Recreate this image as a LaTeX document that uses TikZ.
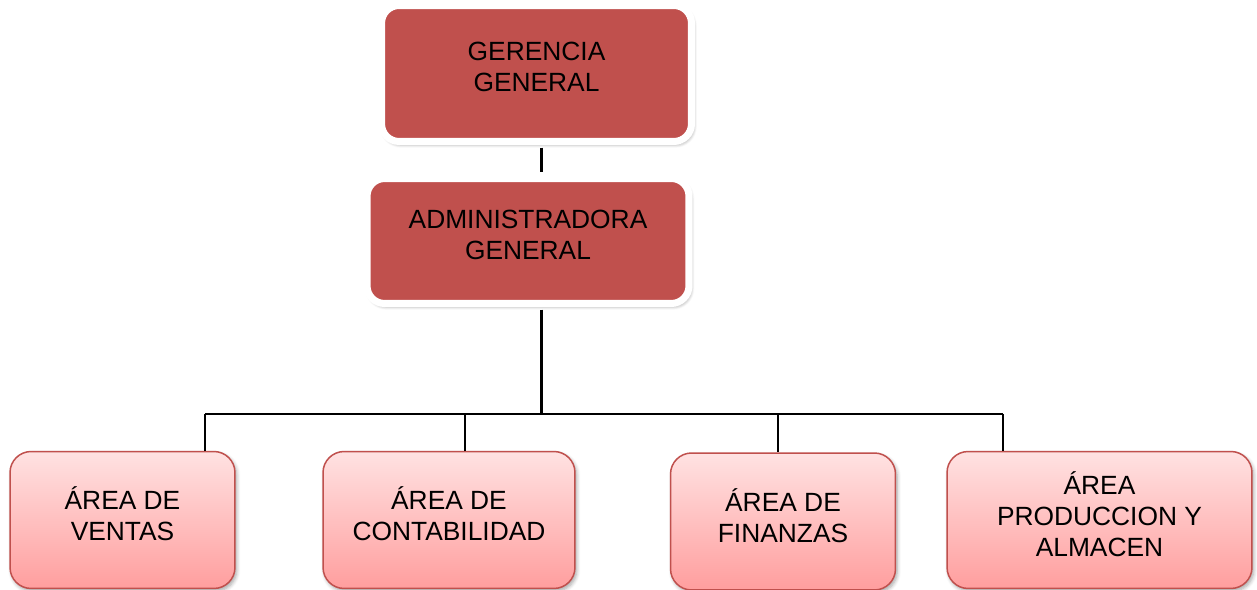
\documentclass[tikz,border=0pt]{standalone}
\usepackage{fontspec}
\setmainfont{Liberation Sans}
\usetikzlibrary{shapes, positioning, shadows, shadows.blur, calc}

\definecolor{jefeRed}{RGB}{192,80,77}
\definecolor{areaTop}{RGB}{255,226,226}
\definecolor{areaBottom}{RGB}{255,158,158}
\newcommand{\boxfont}{\fontsize{15pt}{17.6pt}\selectfont}

\begin{document}
\begin{tikzpicture}[
            x=0.02cm, y=-0.02cm,
            jefe/.style={
				rectangle,
				rounded corners=10pt,
				align=center,
				draw=white,
				line width=4pt,
				fill=jefeRed,
				font=\boxfont,
				text depth=0.25cm,
				blur shadow={shadow xshift=1pt, shadow yshift=-1.5pt, shadow blur steps=6, shadow opacity=45}
			},
            area/.style={
				rectangle,
				rounded corners=12pt,
				align=center,
				draw=jefeRed,
				line width=0.85pt,
				top color=areaTop,
				bottom color=areaBottom,
				font=\boxfont,
				text depth=0.25cm,
				minimum height=2.74cm,
				blur shadow={shadow xshift=1pt, shadow yshift=-1.5pt, shadow blur steps=5, shadow opacity=35}
			},
            conn/.style={
				line width=1.3pt,
				black
			}
        ]

        \useasboundingbox (0,0) rectangle (1257,590);

        \node (gerencia) [jefe, minimum width=6.2cm, minimum height=2.72cm] at (536.5,73.5) {GERENCIA\\GENERAL};
        \node (admin) [jefe, minimum width=6.44cm, minimum height=2.5cm] at (528,241) {ADMINISTRADORA\\GENERAL};

        \node (ventas) [area, minimum width=4.5cm] at (122.5,520) {ÁREA DE\\VENTAS};
        \node (conta) [area, minimum width=5.04cm] at (449,520) {ÁREA DE\\CONTABILIDAD};
        \node (finanzas) [area, minimum width=4.5cm] at (783,521.5) {ÁREA DE\\FINANZAS};
        \node (produccion) [area, minimum width=6.1cm] at (1099.5,520) {ÁREA\\PRODUCCION Y\\ALMACEN};

        \coordinate (bus) at (541.5,414);
        \coordinate (t1) at (205,414);
        \coordinate (t2) at (465,414);
        \coordinate (t3) at (778,414);
        \coordinate (t4) at (1003,414);

        \draw [conn, shorten <=1.5pt, shorten >=1.5pt] (gerencia.south -| bus) -- (admin.north -| bus);
        \draw [conn, shorten <=1.5pt] (admin.south -| bus) -- (bus);
        \draw [conn] (t1) -- (t4);
        \draw [conn] (t1) -- (t1 |- ventas.north);
        \draw [conn] (t2) -- (t2 |- conta.north);
        \draw [conn] (t3) -- (t3 |- finanzas.north);
        \draw [conn] (t4) -- (t4 |- produccion.north);

        \end{tikzpicture}
\end{document}
